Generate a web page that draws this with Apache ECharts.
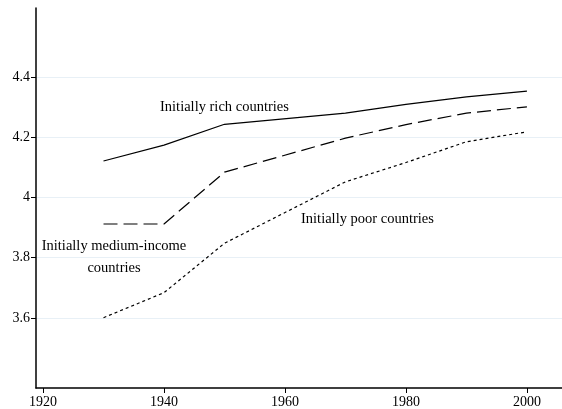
<!DOCTYPE html>
<html>
<head>
<meta charset="utf-8">
<script src="https://cdn.jsdelivr.net/npm/echarts@6/dist/echarts.min.js"></script>
<style>
  html, body { margin: 0; padding: 0; background: #fff; }
  #chart { width: 562px; height: 409px; }
</style>
</head>
<body>
<div id="chart"></div>
<script>
// Years observed for each group
const years = [1930, 1940, 1950, 1970, 1980, 1990, 2000];

// Log income by initial income group
const richValues   = [4.121, 4.174, 4.243, 4.280, 4.309, 4.334, 4.353];
const mediumValues = [3.912, 3.912, 4.084, 4.197, 4.242, 4.280, 4.301];
const poorValues   = [3.601, 3.684, 3.848, 4.052, 4.116, 4.185, 4.218];

// Axis tick values
const xTicks = [1920, 1940, 1960, 1980, 2000];
const yTicks = [3.6, 3.8, 4, 4.2, 4.4];

const pairs = vals => years.map((y, i) => [y, vals[i]]);
const font = '"Liberation Serif", "DejaVu Serif", serif';
const labelFont = '14.5px ' + font;

const chart = echarts.init(document.getElementById('chart'));
chart.setOption({
  animation: false,
  grid: { left: 36, right: 0, top: 8, bottom: 21 },
  xAxis: {
    type: 'value',
    min: 1918.84,
    max: 2005.8,
    axisLine: { lineStyle: { color: '#000', width: 1.5 } },
    axisTick: { customValues: xTicks, length: 5, lineStyle: { color: '#000' } },
    axisLabel: {
      customValues: xTicks, color: '#000', fontFamily: font, fontSize: 14,
      margin: 7,
      formatter: v => String(v)
    },
    splitLine: { show: false }
  },
  yAxis: {
    type: 'value',
    min: 3.3676,
    max: 4.629,
    axisLine: { show: true, lineStyle: { color: '#000', width: 1.5 } },
    axisTick: { show: true, customValues: yTicks, length: 5, lineStyle: { color: '#000' } },
    axisLabel: {
      customValues: yTicks, color: '#000', fontFamily: font, fontSize: 14,
      margin: 6,
      formatter: v => String(Math.round(v * 10) / 10)
    },
    splitLine: { show: true, lineStyle: { color: '#e8f0f6', width: 1 } }
  },
  series: [
    {
      name: 'Initially rich countries', type: 'line', data: pairs(richValues),
      symbol: 'none', lineStyle: { color: '#000', width: 1.2 }
    },
    {
      name: 'Initially medium-income countries', type: 'line', data: pairs(mediumValues),
      symbol: 'none', lineStyle: { color: '#000', width: 1.2, type: [14, 6] }
    },
    {
      name: 'Initially poor countries', type: 'line', data: pairs(poorValues),
      symbol: 'none', lineStyle: { color: '#000', width: 1.2, type: [3, 3] }
    }
  ],
  graphic: [
    {
      type: 'text', x: 160, y: 100,
      style: { text: 'Initially rich countries', fill: '#000', font: labelFont, verticalAlign: 'top' }
    },
    {
      type: 'text', x: 301, y: 212,
      style: { text: 'Initially poor countries', fill: '#000', font: labelFont, verticalAlign: 'top' }
    },
    {
      type: 'text', x: 114, y: 235,
      style: {
        text: 'Initially medium-income\ncountries', fill: '#000', font: labelFont,
        align: 'center', verticalAlign: 'top', lineHeight: 22
      }
    }
  ]
});
</script>
</body>
</html>
